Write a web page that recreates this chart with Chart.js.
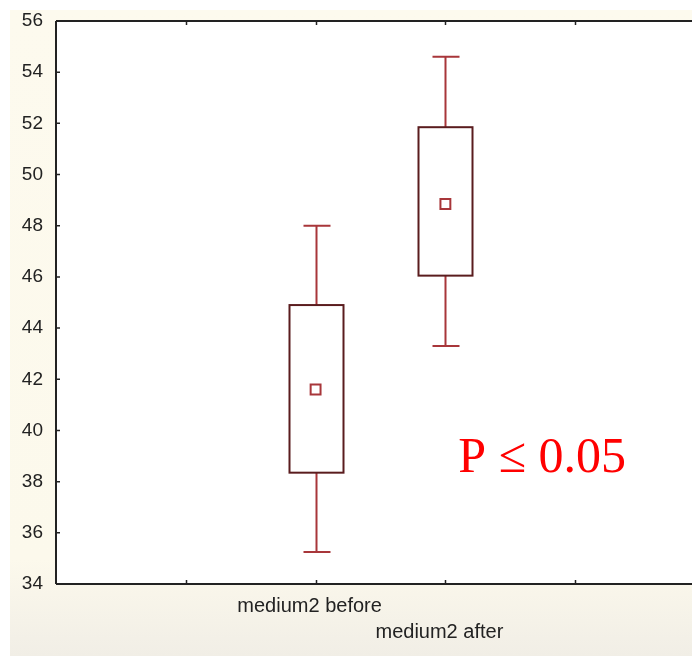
<!DOCTYPE html>
<html>
<head>
<meta charset="utf-8">
<script src="https://cdn.jsdelivr.net/npm/chart.js@4.4.1/dist/chart.umd.min.js"></script>
<style>
  html, body { margin: 0; padding: 0; background: #ffffff; }
  #wrap { position: relative; width: 692px; height: 664px; overflow: hidden; }
  #bg {
    position: absolute; left: 10px; top: 10px; width: 682px; height: 646px;
    background: linear-gradient(to bottom, #fdfaee 0%, #fcf9ec 85%, #f1eee6 100%);
  }
  #c { position: absolute; left: 0; top: 0; }
</style>
</head>
<body>
<div id="wrap">
  <div id="bg"></div>
  <canvas id="c" width="692" height="664"></canvas>
</div>
<script>
// data
const categories = ["medium2 before", "medium2 after"];
const catX = [2, 3];
const whiskerLow = [35.25, 43.3];
const boxLow = [38.35, 46.05];
const means = [41.6, 48.85];
const boxHigh = [44.9, 51.85];
const whiskerHigh = [48.0, 54.6];
const yTicks = [34, 36, 38, 40, 42, 44, 46, 48, 50, 52, 54, 56];
const xTicks = [1, 2, 3, 4];
const note = "P \u2264 0.05";

const whiskerColor = "#a8363a";
const boxColor = "#5a1c1e";
const labelFont = { family: "'Liberation Sans', Arial, sans-serif", size: 19 };

// box plot, frame and inward ticks drawn from the scales
const boxPlot = {
  id: "boxPlot",
  beforeDatasetsDraw(chart) {
    const { ctx, chartArea: a, scales: { x, y } } = chart;
    ctx.save();
    ctx.fillStyle = "#ffffff";
    ctx.fillRect(a.left, a.top, a.right - a.left, a.bottom - a.top);

    for (let i = 0; i < catX.length; i++) {
      const cx = Math.round(x.getPixelForValue(catX[i])) + 0.5;
      const wl = y.getPixelForValue(whiskerLow[i]);
      const bl = y.getPixelForValue(boxLow[i]);
      const bh = y.getPixelForValue(boxHigh[i]);
      const wh = y.getPixelForValue(whiskerHigh[i]);
      ctx.strokeStyle = whiskerColor;
      ctx.lineWidth = 2;
      ctx.beginPath();
      ctx.moveTo(cx, wl); ctx.lineTo(cx, bl);
      ctx.moveTo(cx, bh); ctx.lineTo(cx, wh);
      ctx.moveTo(cx - 13, wl); ctx.lineTo(cx + 14, wl);
      ctx.moveTo(cx - 13, wh); ctx.lineTo(cx + 14, wh);
      ctx.stroke();
      ctx.strokeStyle = boxColor;
      ctx.strokeRect(cx - 27, bh, 54, bl - bh);
    }

    // frame
    ctx.strokeStyle = "#222222";
    ctx.lineWidth = 2;
    ctx.beginPath();
    ctx.moveTo(a.left, a.top); ctx.lineTo(a.right, a.top);
    ctx.moveTo(a.left, a.top); ctx.lineTo(a.left, a.bottom);
    ctx.moveTo(a.left, a.bottom); ctx.lineTo(a.right, a.bottom);
    ctx.stroke();
    ctx.lineWidth = 1.5;
    ctx.beginPath();
    yTicks.forEach(v => {
      const py = y.getPixelForValue(v);
      ctx.moveTo(a.left, py); ctx.lineTo(a.left + 4, py);
    });
    xTicks.forEach(v => {
      const px = Math.round(x.getPixelForValue(v)) + 0.5;
      ctx.moveTo(px, a.bottom); ctx.lineTo(px, a.bottom - 4);
      ctx.moveTo(px, a.top); ctx.lineTo(px, a.top + 4);
    });
    ctx.stroke();
    ctx.restore();
  },
  afterDatasetsDraw(chart) {
    const { ctx, scales: { x, y } } = chart;
    ctx.save();
    ctx.fillStyle = "#ff0000";
    ctx.font = "50px 'Liberation Serif', 'Times New Roman', serif";
    ctx.textBaseline = "alphabetic";
    ctx.fillText(note, x.getPixelForValue(3.1), y.getPixelForValue(38.36));
    ctx.restore();
  }
};

new Chart(document.getElementById("c"), {
  type: "scatter",
  data: {
    datasets: [{
      data: catX.map((v, i) => ({ x: v, y: means[i] })),
      pointStyle: "rect",
      radius: 7,
      borderWidth: 2,
      borderColor: whiskerColor,
      backgroundColor: "#ffffff"
    }]
  },
  options: {
    responsive: false,
    animation: false,
    layout: { autoPadding: false, padding: { top: 21, right: 0, bottom: 10, left: 0 } },
    plugins: { legend: { display: false }, tooltip: { enabled: false } },
    scales: {
      x: {
        type: "linear",
        min: 0,
        max: 4.9,
        grid: { display: false, drawTicks: false },
        border: { display: false },
        afterBuildTicks: s => { s.ticks = xTicks.map(v => ({ value: v })); },
        afterFit: s => { s.paddingLeft = 0; s.paddingRight = 0; },
        ticks: {
          padding: 9,
          labelOffset: -6,
          color: "#222222",
          font: { family: labelFont.family, size: 20, lineHeight: 1.3 },
          maxRotation: 0,
          autoSkip: false,
          callback: v => {
            const i = catX.indexOf(v);
            if (i < 0) return "";
            return i % 2 === 0 ? [categories[i]] : ["", categories[i]];
          }
        }
      },
      y: {
        min: 34,
        max: 56,
        grid: { display: false, drawTicks: false },
        border: { display: false },
        afterBuildTicks: s => { s.ticks = yTicks.map(v => ({ value: v })); },
        afterFit: s => { s.width = 56; s.paddingTop = 0; s.paddingBottom = 0; },
        ticks: {
          padding: 13,
          color: "#222222",
          font: labelFont
        }
      }
    }
  },
  plugins: [boxPlot]
});
</script>
</body>
</html>
